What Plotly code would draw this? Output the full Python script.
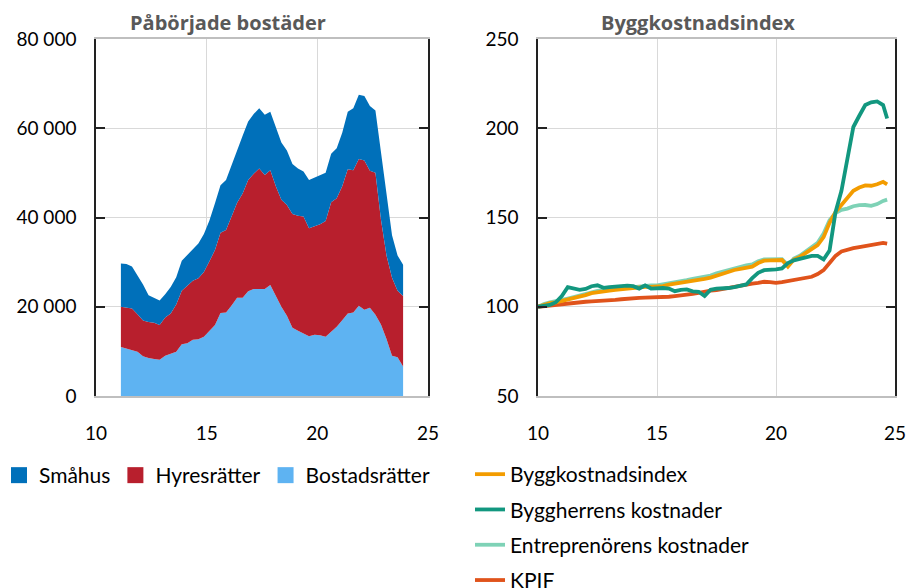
import plotly.graph_objects as go

# ---------------- Left panel data: Påbörjade bostäder (quarterly, rolling) ----------------
left_start = 11.125
left_step = 0.25
smahus = [9700, 9800, 9400, 8700, 8100, 6000, 5600, 5500, 5200, 5900, 6100, 6700, 6800, 7200,
          7800, 8500, 9100, 10500, 10600, 11200, 11600, 11900, 12900, 13100, 13400, 13500,
          13500, 13100, 13000, 12800, 12200, 11200, 10600, 10100, 10800, 10900, 10900, 10800,
          10900, 11200, 12000, 12900, 13900, 14400, 14400, 14500, 14000, 15000, 14000, 9500,
          7900, 7000]
hyresratter = [9000, 9200, 9300, 8400, 8000, 8100, 8100, 7800, 8600, 9100, 10600, 12000, 13000,
               13200, 13700, 14500, 15700, 16800, 18000, 18500, 19900, 21300, 23400, 24900,
               25800, 27000, 25500, 25700, 24600, 24000, 24800, 25500, 25800, 26200, 24200,
               24300, 24900, 25900, 29100, 28800, 30000, 32300, 31900, 32900, 33500, 30700,
               31800, 23500, 18700, 17500, 14900, 15800]
bostadsratter = [11000, 10600, 10300, 9900, 8900, 8500, 8300, 8100, 9000, 9400, 9900, 11600,
                 11800, 12600, 12700, 13300, 14500, 15900, 18600, 18700, 20300, 22000, 22000,
                 23500, 24000, 24000, 24000, 24900, 22400, 20000, 18000, 15300, 14600, 14000,
                 13400, 13700, 13600, 13300, 14300, 15500, 17000, 18500, 18700, 20200, 19300,
                 19800, 18200, 16000, 12800, 9000, 8700, 6600]
left_x = [left_start + left_step * i for i in range(len(smahus))]

left_yticks = [0, 20000, 40000, 60000, 80000]
left_yticktext = ["0", "20 000", "40 000", "60 000", "80 000"]
x_ticks = [10, 15, 20, 25]

# ---------------- Right panel data: Byggkostnadsindex (index, 2010 = 100) ----------------
right_x = [10.0 + 0.25 * i for i in range(59)] + [24.67]
byggkostnadsindex = [100, 101.2, 102, 102.5, 103.2, 104, 104.8, 105.6, 106.5, 107.6, 108.2, 108.6,
                     109, 109.4, 109.8, 110, 110.3, 110.7, 111.1, 111.1, 111.1, 111.6, 112.4, 112.9,
                     113.2, 113.8, 114.5, 115, 115.6, 116.3, 117.5, 118.4, 119.5, 120.6, 121.2, 122,
                     122.5, 124.5, 125.8, 126, 126.1, 126.2, 122.5, 126.5, 127.9, 130, 132.5, 134.5,
                     139, 147, 153, 157, 161.8, 165, 166.8, 168, 167.8, 168.6, 170, 168.6]
byggherrens = [100, 100.5, 101, 102.5, 106, 111, 110.5, 109.5, 110, 111.5, 112, 110.6,
               111, 111.5, 111.5, 111.8, 111.5, 110.2, 112, 110.2, 110.6, 110.5, 110.2, 108.7,
               109.5, 109.7, 108.6, 108.4, 106, 109.5, 110.2, 110.2, 110.5, 111, 111.8, 112.5,
               116, 119, 120.5, 120.5, 121, 121.5, 124.5, 126, 127, 127.6, 128.5, 128.5,
               126.5, 131.5, 153, 165, 182, 200.7, 207, 213, 214.5, 215, 213, 205.5]
entreprenorens = [100, 101.5, 102.4, 103, 103.8, 104.6, 105.4, 106.3, 107.2, 108.3, 108.9, 109.3,
                  109.7, 110.1, 110.5, 110.8, 111.1, 111.5, 111.9, 112, 112, 112.5, 113.3, 113.9,
                  114.2, 114.9, 115.6, 116.2, 116.8, 117.5, 118.7, 119.6, 120.7, 121.8, 122.4, 123.2,
                  123.7, 125.5, 126.5, 126.6, 126.6, 126.6, 123.3, 127, 128.6, 130.8, 133.5, 135.8,
                  141, 148.5, 152.5, 154.3, 155, 156.3, 156.9, 157, 156.5, 157.5, 159.3, 160]
kpif = [100, 100.4, 100.8, 101, 101.4, 101.8, 102.2, 102.6, 102.8, 103, 103.1, 103.4,
        103.6, 103.8, 104.2, 104.6, 104.8, 105, 105.1, 105.1, 105.1, 105.3, 105.6, 106,
        106.3, 106.8, 107.2, 107.8, 108.6, 109, 109.3, 110, 110.6, 111.1, 111.8, 112.5,
        113, 113.4, 114, 113.8, 113.4, 113.8, 114.3, 114.8, 115.3, 115.8, 116.8, 118.3,
        120.5, 124.5, 128.5, 131, 132, 132.8, 133.4, 134, 134.6, 135.3, 135.8, 135.4]

right_yticks = [50, 100, 150, 200, 250]

# ---------------- Styles ----------------
C_SMAHUS = "#0070BA"
C_HYRES = "#B81F2D"
C_BOSTAD = "#5EB3F2"
C_BKI = "#F39C00"
C_BH = "#12977F"
C_ENTR = "#7ED2B6"
C_KPIF = "#E0531B"
GRID = "#D9D9D9"
FONT = "Lato"

# the page body margin is removed (post_script), so the figure sits at (0, 0)
W, H = 907, 588


def px_x(p):
    return p / W


def px_y(p):
    return 1 - p / H


fig = go.Figure()

# stacked areas (bottom first)
for name, vals, col in [("Bostadsrätter", bostadsratter, C_BOSTAD),
                        ("Hyresrätter", hyresratter, C_HYRES),
                        ("Småhus", smahus, C_SMAHUS)]:
    fig.add_trace(go.Scatter(x=left_x, y=vals, name=name, stackgroup="one",
                             mode="lines", line=dict(width=0, color=col),
                             fillcolor=col, showlegend=False,
                             xaxis="x", yaxis="y", hoverinfo="skip"))

# legend entries for areas
for name, col in [("Småhus", C_SMAHUS), ("Hyresrätter", C_HYRES), ("Bostadsrätter", C_BOSTAD)]:
    fig.add_trace(go.Scatter(x=[None], y=[None], name=name, mode="markers",
                             marker=dict(symbol="square", size=16, color=col),
                             xaxis="x", yaxis="y", legend="legend"))

# lines (drawing order chosen to match overlaps; legend order via legendrank)
line_specs = [("Entreprenörens kostnader", entreprenorens, C_ENTR, 3),
              ("KPIF", kpif, C_KPIF, 4),
              ("Byggkostnadsindex", byggkostnadsindex, C_BKI, 1),
              ("Byggherrens kostnader", byggherrens, C_BH, 2)]
for name, vals, col, rank in line_specs:
    fig.add_trace(go.Scatter(x=right_x, y=vals, name=name, mode="lines",
                             line=dict(width=3.8, color=col),
                             xaxis="x2", yaxis="y2", legend="legend2", legendgroup=name,
                             legendrank=rank))

axis_common = dict(showgrid=True, gridcolor=GRID, gridwidth=1.3, zeroline=False,
                   automargin=False, ticklabeloverflow="allow",
                   tickfont=dict(family=FONT, size=19, color="#000"))

fig.update_layout(
    width=W, height=H,
    margin=dict(l=0, r=0, t=0, b=0, autoexpand=False),
    paper_bgcolor="white", plot_bgcolor="white",
    font=dict(family=FONT, color="#000"),
    xaxis=dict(domain=[px_x(96), px_x(428)], range=[10, 25], tickvals=x_ticks,
               showline=True, linecolor="#BFBFBF", linewidth=1.5, mirror=True,
               ticks="", ticklabelstandoff=19, **axis_common),
    yaxis=dict(domain=[px_y(396), px_y(39)], range=[0, 80000],
               tickvals=left_yticks, ticktext=left_yticktext,
               showline=True, linecolor="#222", linewidth=1.5, mirror="allticks",
               ticks="inside", ticklen=9, tickcolor="#222", tickwidth=1.5,
               ticklabelstandoff=14, **axis_common),
    xaxis2=dict(domain=[px_x(538), px_x(895)], range=[10, 25], tickvals=x_ticks,
                anchor="y2", showline=True, linecolor="#BFBFBF", linewidth=1.5, mirror=True,
                ticks="", ticklabelstandoff=19, **axis_common),
    yaxis2=dict(domain=[px_y(396), px_y(39)], range=[50, 250],
                tickvals=right_yticks, anchor="x2",
                showline=True, linecolor="#222", linewidth=1.5, mirror="allticks",
                ticks="inside", ticklen=9, tickcolor="#222", tickwidth=1.5,
                ticklabelstandoff=14, **axis_common),
    legend=dict(orientation="h", x=-1 / W, y=px_y(455), xanchor="left", yanchor="top",
                font=dict(family=FONT, size=21, color="#000"), itemwidth=30,
                traceorder="normal",
                bgcolor="rgba(0,0,0,0)", tracegroupgap=0),
    legend2=dict(orientation="v", x=px_x(470), y=px_y(454), xanchor="left", yanchor="top",
                 font=dict(family=FONT, size=21, color="#000"), itemwidth=30,
                 traceorder="grouped",
                 bgcolor="rgba(0,0,0,0)", tracegroupgap=5),
    annotations=[
        dict(text="<b>Påbörjade bostäder</b>", x=px_x(228), y=px_y(22), xref="paper",
             yref="paper", showarrow=False, xanchor="center", yanchor="middle",
             borderpad=0, font=dict(family="Open Sans", size=20, color="#595959")),
        dict(text="<b>Byggkostnadsindex</b>", x=px_x(698), y=px_y(22), xref="paper",
             yref="paper", showarrow=False, xanchor="center", yanchor="middle",
             borderpad=0, font=dict(family="Open Sans", size=20, color="#595959")),
    ],
)

fig.write_html("out.html",
               config={"displayModeBar": False},
               post_script="document.body.style.margin='0';document.body.style.overflow='hidden';")
